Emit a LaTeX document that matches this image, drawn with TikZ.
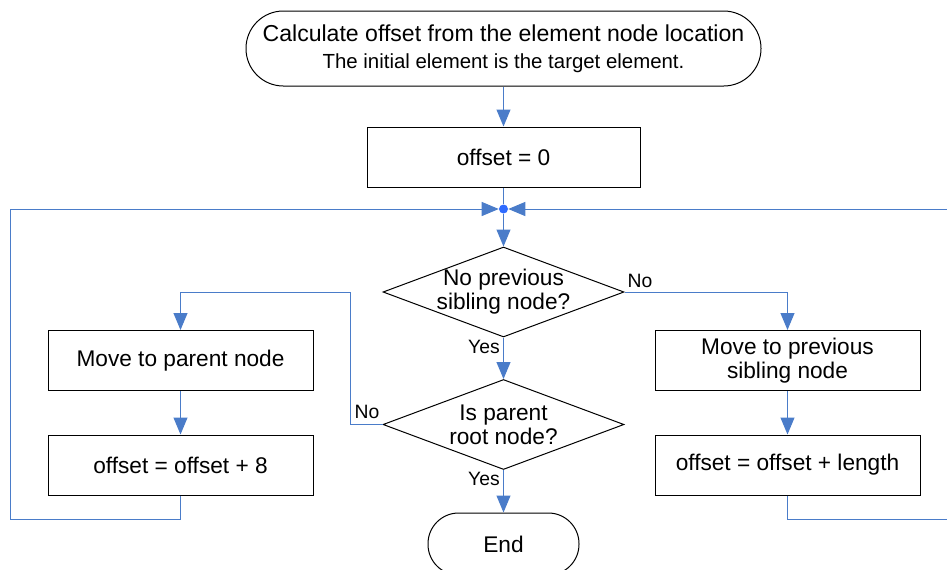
\documentclass[tikz,border=0pt]{standalone}
\usepackage{fontspec}
\setmainfont{Liberation Sans}
\usetikzlibrary{arrows.meta,shapes.geometric}
\definecolor{lineblue}{HTML}{4A7CC9}
\definecolor{dotblue}{HTML}{2F6BFF}
\begin{document}
\begin{tikzpicture}[x=0.75pt,y=-0.75pt,
  flow/.style={draw=lineblue, line width=0.75pt},
  arr/.style={flow, -{Triangle[length=12.75pt,width=10.5pt]}},
  mainfont/.style={font=\fontsize{17}{18}\selectfont},
  procbox/.style={draw=black, line width=0.75pt, fill=white, mainfont, align=center,
    minimum width=198.75pt, minimum height=45pt, inner sep=0pt},
  decision/.style={draw=black, line width=0.75pt, fill=white, diamond,
    minimum width=180.75pt, minimum height=67.5pt, inner sep=0pt},
  terminal/.style={draw=black, line width=0.75pt, fill=white, align=center, inner sep=0pt},
  lbl/.style={font=\fontsize{14.5}{16}\selectfont, inner sep=0pt}
]
\useasboundingbox (0,0) rectangle (947,569);
\clip (0,0) rectangle (947,569);

% nodes
\node[terminal, minimum width=386.25pt, minimum height=56.25pt, rounded corners=28pt,
  font=\fontsize{17.3}{20.25}\selectfont]
  (start) at (503.5,48.5)
  {Calculate offset from the element node location\\
   {\fontsize{15.3}{20.25}\selectfont The initial element is the target element.}};
\node[procbox, minimum width=204.75pt] (init) at (503.5,157) {offset = 0};
\node[circle, fill=dotblue, inner sep=0pt, minimum size=6.75pt] (J) at (503.5,209) {};
\node[decision, label={[mainfont, align=center]center:No previous\\sibling node?}] (q1) at (503.5,292) {};
\node[decision, label={[mainfont, align=center]center:Is parent\\root node?}] (q2) at (503.5,424.5) {};
\node[terminal, mainfont, minimum width=113.25pt, minimum height=46.5pt, rounded corners=23pt]
  (end) at (503.5,544) {End};
\node[procbox] (l1) at (180.5,360.5) {Move to parent node};
\node[procbox] (l2) at (180.5,465) {offset = offset + 8};
\node[procbox] (r1) at (787.5,360.5) {Move to previous\\sibling node};
\node[procbox] (r2) at (787.5,465) {offset = offset + length};

% corner coordinates
\coordinate (cL) at (350,292);
\coordinate (cLL) at (10,519);
\coordinate (cRR) at (965,519);

% connectors
\draw[arr] (start) -- (init);
\draw[flow] (init) -- (J);
\draw[arr] (J) -- (q1);
\draw[arr] (q1.east) -| (r1.north);
\draw[arr] (q1.south) -- (q2.north);
\draw[arr] (q2.south) -- (end.north);
\draw[arr] (q2.west) -| (cL) -| (l1.north);
\draw[arr] (l1) -- (l2);
\draw[arr] (r1) -- (r2);
\draw[arr] (l2.south) |- (cLL) |- (J.west);
\draw[arr] (r2.south) |- (cRR) |- (J.east);

% labels
\node[lbl] (noA) at (640,281) {No};
\node[lbl] (yesA) at (484,347) {Yes};
\node[lbl] (noB) at (367,412) {No};
\node[lbl] (yesB) at (484,479) {Yes};
\end{tikzpicture}
\end{document}
